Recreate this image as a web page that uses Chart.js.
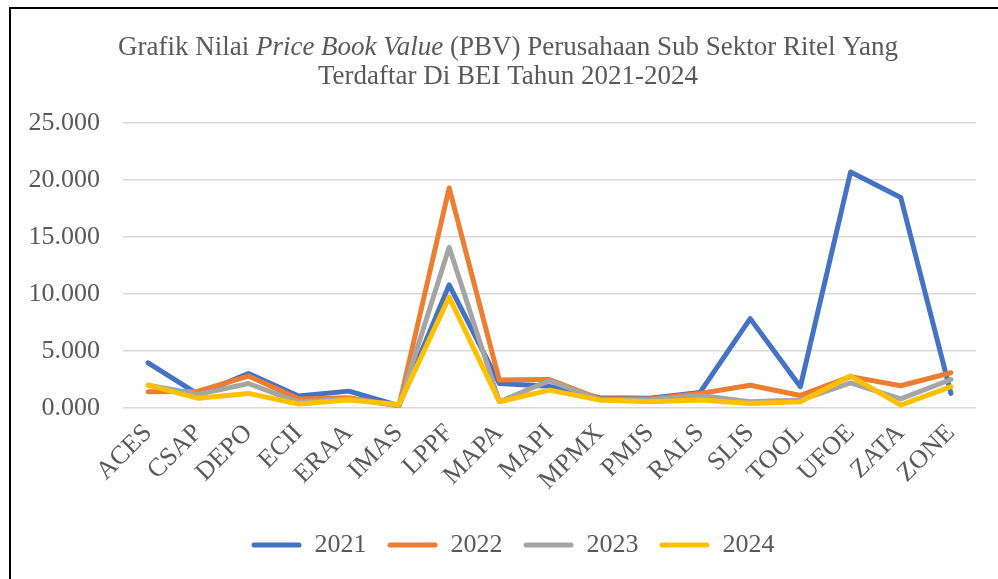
<!DOCTYPE html>
<html>
<head>
<meta charset="utf-8">
<title>PBV Sub Sektor Ritel</title>
<script src="https://cdn.jsdelivr.net/npm/chart.js@4.4.1/dist/chart.umd.min.js"></script>
<style>
  html, body { margin: 0; padding: 0; background: #fff; }
  #wrap { position: relative; width: 998px; height: 579px; overflow: hidden; }
  #frame { position: absolute; left: 9px; top: 7px; width: 1100px; height: 700px;
           border-left: 2px solid #000; border-top: 2px solid #000; }
  #box { position: absolute; left: 0; top: 0; width: 998px; height: 579px; }
</style>
</head>
<body>
<div id="wrap">
  <div id="frame"></div>
  <div id="box"><canvas id="myChart"></canvas></div>
</div>
<script>
// data
var categories = ["ACES", "CSAP", "DEPO", "ECII", "ERAA", "IMAS", "LPPF", "MAPA", "MAPI",
                  "MPMX", "PMJS", "RALS", "SLIS", "TOOL", "UFOE", "ZATA", "ZONE"];
var years = ["2021", "2022", "2023", "2024"];
var pbv2021 = [3.96, 1.20, 3.03, 1.05, 1.48, 0.20, 10.80, 2.15, 1.90, 0.90, 0.85, 1.37, 7.84, 1.87, 20.70, 18.47, 1.28];
var pbv2022 = [1.43, 1.48, 2.80, 0.80, 0.90, 0.20, 19.30, 2.45, 2.50, 0.80, 0.80, 1.28, 2.00, 1.10, 2.75, 1.95, 3.09];
var pbv2023 = [2.00, 1.20, 2.15, 0.50, 0.80, 0.20, 14.10, 0.55, 2.40, 0.70, 0.70, 1.10, 0.55, 0.70, 2.20, 0.80, 2.50];
var pbv2024 = [2.00, 0.85, 1.28, 0.35, 0.70, 0.30, 9.73, 0.55, 1.57, 0.70, 0.55, 0.70, 0.40, 0.55, 2.80, 0.26, 1.87];
var yTickValues = [0, 5, 10, 15, 20, 25];
var yTickLabels = ["0.000", "5.000", "10.000", "15.000", "20.000", "25.000"];

var lineColors = ["#4472C4", "#ED7D31", "#A5A5A5", "#FFC000"];
var seriesValues = [pbv2021, pbv2022, pbv2023, pbv2024];

var textColor = "#595959";
var serif = "'Liberation Serif', 'Times New Roman', serif";

// title with an italic part, drawn on the chart canvas
var titleLine1 = [
  { text: "Grafik Nilai ", italic: false },
  { text: "Price Book Value", italic: true },
  { text: " (PBV) Perusahaan Sub Sektor Ritel Yang", italic: false }
];
var titleLine2 = [{ text: "Terdaftar Di BEI Tahun 2021-2024", italic: false }];

var titlePlugin = {
  id: "mixedTitle",
  afterLayout: function (chart) {
    // legend sits a bit right of the canvas centre in the original
    if (chart.legend) {
      chart.legend.left += 25;
      chart.legend.right += 25;
    }
  },
  afterDraw: function (chart) {
    var ctx = chart.ctx;
    var size = 27;
    var cx = 508;
    function drawLine(parts, y) {
      var total = 0;
      parts.forEach(function (p) {
        ctx.font = (p.italic ? "italic " : "") + size + "px " + serif;
        p.w = ctx.measureText(p.text).width;
        total += p.w;
      });
      var x = cx - total / 2;
      parts.forEach(function (p) {
        ctx.font = (p.italic ? "italic " : "") + size + "px " + serif;
        ctx.fillText(p.text, x, y);
        x += p.w;
      });
    }
    ctx.save();
    ctx.fillStyle = textColor;
    ctx.textBaseline = "alphabetic";
    ctx.textAlign = "left";
    drawLine(titleLine1, 55);
    drawLine(titleLine2, 84);
    ctx.restore();
  }
};

var datasets = years.map(function (y, i) {
  return {
    label: y,
    data: seriesValues[i],
    borderColor: lineColors[i],
    backgroundColor: lineColors[i],
    borderWidth: 5,
    pointRadius: 0,
    tension: 0,
    borderJoinStyle: "round",
    borderCapStyle: "round",
    order: years.length - i
  };
});

new Chart("myChart", {
  type: "line",
  data: {
    labels: categories,
    datasets: datasets
  },
  plugins: [titlePlugin],
  options: {
    responsive: true,
    maintainAspectRatio: false,
    animation: false,
    layout: { padding: { top: 123, right: 22, bottom: 11, left: 0 } },
    plugins: {
      title: { display: false },
      tooltip: { enabled: false },
      legend: {
        position: "bottom",
        labels: {
          font: { family: serif, size: 26 },
          color: textColor,
          boxWidth: 50,
          boxHeight: 5,
          padding: 21,
          sort: function (a, b) { return a.datasetIndex - b.datasetIndex; },
          generateLabels: function (chart) {
            var items = Chart.defaults.plugins.legend.labels.generateLabels(chart);
            items.forEach(function (it) {
              it.lineWidth = 0;
              it.borderRadius = 2.5;
            });
            return items;
          }
        }
      }
    },
    scales: {
      x: {
        offset: true,
        grid: { display: false },
        border: { display: false },
        ticks: {
          color: textColor,
          font: { family: serif, size: 26 },
          maxRotation: 45,
          minRotation: 45,
          autoSkip: false,
          padding: 2
        },
        afterFit: function (s) { s.height = 103; }
      },
      y: {
        min: 0,
        max: 25,
        grid: { color: "#d9d9d9", lineWidth: 1.5, drawTicks: false },
        border: { display: false },
        afterBuildTicks: function (s) {
          s.ticks = yTickValues.map(function (v) { return { value: v }; });
        },
        ticks: {
          color: textColor,
          font: { family: serif, size: 26 },
          padding: 23,
          callback: function (v) { return yTickLabels[yTickValues.indexOf(v)]; }
        },
        afterFit: function (s) { s.width = 123; }
      }
    }
  }
});
</script>
</body>
</html>
